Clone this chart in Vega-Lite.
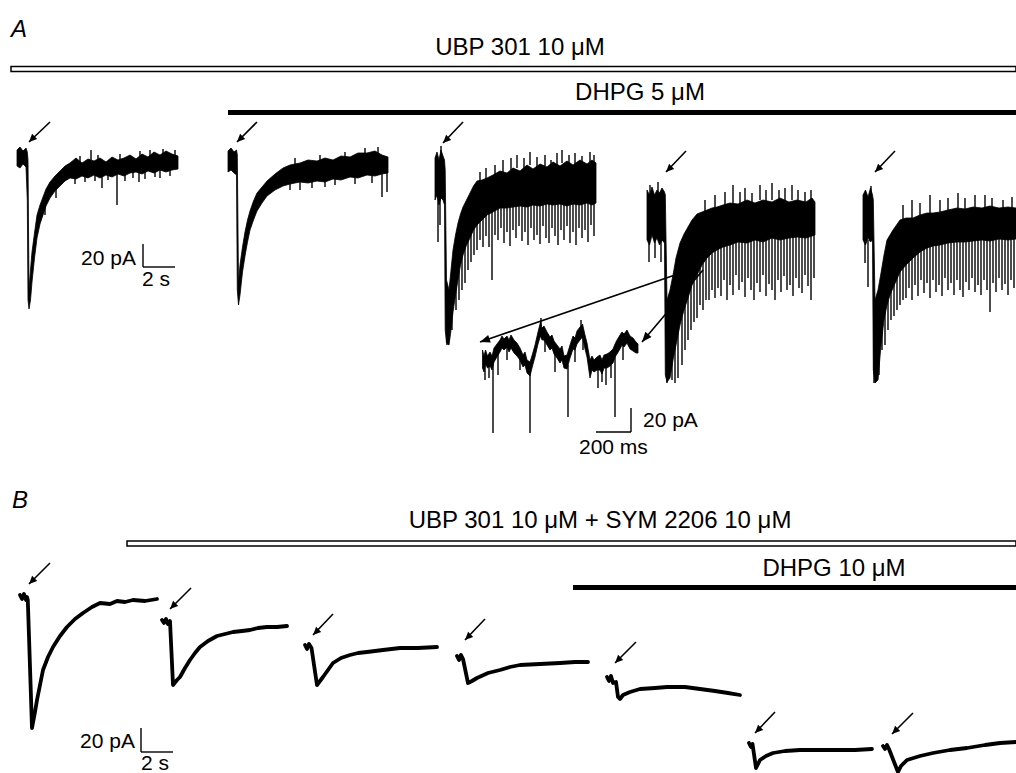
{
  "$schema": "https://vega.github.io/schema/vega-lite/v6.json",
  "width": 1016,
  "height": 773,
  "autosize": "none",
  "padding": 0,
  "background": "white",
  "config": {"view": {"stroke": null}},
  "datasets": {
    "bars": [
      {"kind": "hollow", "x": 11, "x2": 1016, "y": 66.5, "y2": 71.5},
      {"kind": "hollow", "x": 127, "x2": 1016, "y": 541, "y2": 546},
      {"kind": "solid", "x": 228, "x2": 1016, "y": 110, "y2": 115},
      {"kind": "solid", "x": 573, "x2": 1016, "y": 585, "y2": 590}
    ],
    "bands": [
      {"t": "a1", "x": 17, "top": 150, "bot": 166},
      {"t": "a1", "x": 20, "top": 147, "bot": 168},
      {"t": "a1", "x": 23, "top": 151, "bot": 164},
      {"t": "a1", "x": 26, "top": 148, "bot": 167},
      {"t": "a1", "x": 27.3, "top": 152, "bot": 200},
      {"t": "a1", "x": 28, "top": 160, "bot": 300},
      {"t": "a1", "x": 29, "top": 290, "bot": 309},
      {"t": "a1", "x": 30.5, "top": 270, "bot": 300},
      {"t": "a1", "x": 32, "top": 252, "bot": 282},
      {"t": "a1", "x": 34.5, "top": 233, "bot": 258},
      {"t": "a1", "x": 37, "top": 215, "bot": 238},
      {"t": "a1", "x": 40, "top": 205, "bot": 224},
      {"t": "a1", "x": 43, "top": 197, "bot": 215},
      {"t": "a1", "x": 46, "top": 189, "bot": 206},
      {"t": "a1", "x": 50, "top": 182, "bot": 198},
      {"t": "a1", "x": 55, "top": 176, "bot": 191},
      {"t": "a1", "x": 60, "top": 171, "bot": 186},
      {"t": "a1", "x": 65, "top": 166, "bot": 181},
      {"t": "a1", "x": 70, "top": 163, "bot": 178},
      {"t": "a1", "x": 76, "top": 158, "bot": 179},
      {"t": "a1", "x": 82, "top": 163, "bot": 176},
      {"t": "a1", "x": 88, "top": 159, "bot": 178},
      {"t": "a1", "x": 94, "top": 161, "bot": 175},
      {"t": "a1", "x": 100, "top": 158, "bot": 178},
      {"t": "a1", "x": 106, "top": 162, "bot": 175},
      {"t": "a1", "x": 112, "top": 157, "bot": 177},
      {"t": "a1", "x": 118, "top": 160, "bot": 174},
      {"t": "a1", "x": 124, "top": 158, "bot": 176},
      {"t": "a1", "x": 130, "top": 155, "bot": 173},
      {"t": "a1", "x": 136, "top": 159, "bot": 172},
      {"t": "a1", "x": 142, "top": 154, "bot": 174},
      {"t": "a1", "x": 148, "top": 157, "bot": 171},
      {"t": "a1", "x": 154, "top": 152, "bot": 173},
      {"t": "a1", "x": 160, "top": 155, "bot": 170},
      {"t": "a1", "x": 166, "top": 151, "bot": 172},
      {"t": "a1", "x": 172, "top": 154, "bot": 170},
      {"t": "a1", "x": 178, "top": 156, "bot": 169},

      {"t": "a2", "x": 228, "top": 151, "bot": 172},
      {"t": "a2", "x": 231, "top": 148, "bot": 170},
      {"t": "a2", "x": 234, "top": 152, "bot": 173},
      {"t": "a2", "x": 236.5, "top": 150, "bot": 175},
      {"t": "a2", "x": 237.3, "top": 155, "bot": 290},
      {"t": "a2", "x": 238.5, "top": 283, "bot": 305},
      {"t": "a2", "x": 240, "top": 265, "bot": 295},
      {"t": "a2", "x": 242.5, "top": 247, "bot": 272},
      {"t": "a2", "x": 245, "top": 232, "bot": 256},
      {"t": "a2", "x": 247.5, "top": 220, "bot": 242},
      {"t": "a2", "x": 250, "top": 211, "bot": 230},
      {"t": "a2", "x": 253.5, "top": 201, "bot": 220},
      {"t": "a2", "x": 257, "top": 193, "bot": 211},
      {"t": "a2", "x": 262, "top": 187, "bot": 203},
      {"t": "a2", "x": 267, "top": 181, "bot": 196},
      {"t": "a2", "x": 275, "top": 174, "bot": 190},
      {"t": "a2", "x": 283, "top": 168, "bot": 186},
      {"t": "a2", "x": 290, "top": 165, "bot": 184},
      {"t": "a2", "x": 300, "top": 163, "bot": 182},
      {"t": "a2", "x": 308, "top": 160, "bot": 183},
      {"t": "a2", "x": 317, "top": 161, "bot": 181},
      {"t": "a2", "x": 325, "top": 158, "bot": 182},
      {"t": "a2", "x": 333, "top": 160, "bot": 179},
      {"t": "a2", "x": 341, "top": 156, "bot": 180},
      {"t": "a2", "x": 350, "top": 157, "bot": 177},
      {"t": "a2", "x": 358, "top": 153, "bot": 178},
      {"t": "a2", "x": 367, "top": 153, "bot": 175},
      {"t": "a2", "x": 375, "top": 151, "bot": 176},
      {"t": "a2", "x": 382, "top": 155, "bot": 174},
      {"t": "a2", "x": 388, "top": 157, "bot": 173},

      {"t": "a3", "x": 435, "top": 158, "bot": 200},
      {"t": "a3", "x": 437, "top": 152, "bot": 195},
      {"t": "a3", "x": 439, "top": 160, "bot": 205},
      {"t": "a3", "x": 441, "top": 150, "bot": 198},
      {"t": "a3", "x": 443, "top": 156, "bot": 200},
      {"t": "a3", "x": 444.5, "top": 160, "bot": 205},
      {"t": "a3", "x": 445.2, "top": 170, "bot": 330},
      {"t": "a3", "x": 446.5, "top": 280, "bot": 343},
      {"t": "a3", "x": 449, "top": 290, "bot": 345},
      {"t": "a3", "x": 451, "top": 270, "bot": 330},
      {"t": "a3", "x": 453, "top": 250, "bot": 312},
      {"t": "a3", "x": 455.5, "top": 235, "bot": 295},
      {"t": "a3", "x": 458, "top": 223, "bot": 280},
      {"t": "a3", "x": 460.5, "top": 214, "bot": 265},
      {"t": "a3", "x": 463, "top": 207, "bot": 255},
      {"t": "a3", "x": 466.5, "top": 200, "bot": 245},
      {"t": "a3", "x": 470, "top": 193, "bot": 238},
      {"t": "a3", "x": 473.5, "top": 186, "bot": 230},
      {"t": "a3", "x": 477, "top": 181, "bot": 225},
      {"t": "a3", "x": 482, "top": 180, "bot": 220},
      {"t": "a3", "x": 487, "top": 178, "bot": 215},
      {"t": "a3", "x": 493, "top": 175, "bot": 212},
      {"t": "a3", "x": 500, "top": 171, "bot": 208},
      {"t": "a3", "x": 507, "top": 173, "bot": 208},
      {"t": "a3", "x": 513, "top": 168, "bot": 207},
      {"t": "a3", "x": 520, "top": 171, "bot": 206},
      {"t": "a3", "x": 527, "top": 165, "bot": 207},
      {"t": "a3", "x": 533, "top": 169, "bot": 205},
      {"t": "a3", "x": 540, "top": 164, "bot": 206},
      {"t": "a3", "x": 547, "top": 167, "bot": 204},
      {"t": "a3", "x": 553, "top": 162, "bot": 205},
      {"t": "a3", "x": 560, "top": 166, "bot": 204},
      {"t": "a3", "x": 567, "top": 161, "bot": 206},
      {"t": "a3", "x": 573, "top": 165, "bot": 204},
      {"t": "a3", "x": 580, "top": 160, "bot": 205},
      {"t": "a3", "x": 587, "top": 164, "bot": 203},
      {"t": "a3", "x": 592, "top": 160, "bot": 205},
      {"t": "a3", "x": 596, "top": 163, "bot": 203},

      {"t": "a4", "x": 647, "top": 190, "bot": 240},
      {"t": "a4", "x": 649.5, "top": 195, "bot": 245},
      {"t": "a4", "x": 652, "top": 187, "bot": 235},
      {"t": "a4", "x": 654.5, "top": 195, "bot": 243},
      {"t": "a4", "x": 657, "top": 190, "bot": 238},
      {"t": "a4", "x": 659.5, "top": 193, "bot": 245},
      {"t": "a4", "x": 662, "top": 188, "bot": 240},
      {"t": "a4", "x": 664.5, "top": 192, "bot": 243},
      {"t": "a4", "x": 665.3, "top": 195, "bot": 375},
      {"t": "a4", "x": 667, "top": 300, "bot": 382},
      {"t": "a4", "x": 670, "top": 290, "bot": 378},
      {"t": "a4", "x": 673, "top": 275, "bot": 360},
      {"t": "a4", "x": 676, "top": 258, "bot": 345},
      {"t": "a4", "x": 680, "top": 243, "bot": 325},
      {"t": "a4", "x": 684, "top": 234, "bot": 310},
      {"t": "a4", "x": 688, "top": 227, "bot": 298},
      {"t": "a4", "x": 692, "top": 220, "bot": 285},
      {"t": "a4", "x": 697, "top": 214, "bot": 275},
      {"t": "a4", "x": 702, "top": 212, "bot": 265},
      {"t": "a4", "x": 707, "top": 210, "bot": 258},
      {"t": "a4", "x": 712, "top": 208, "bot": 253},
      {"t": "a4", "x": 717, "top": 207, "bot": 250},
      {"t": "a4", "x": 723, "top": 205, "bot": 247},
      {"t": "a4", "x": 730, "top": 203, "bot": 245},
      {"t": "a4", "x": 738, "top": 204, "bot": 242},
      {"t": "a4", "x": 747, "top": 200, "bot": 243},
      {"t": "a4", "x": 755, "top": 203, "bot": 240},
      {"t": "a4", "x": 763, "top": 200, "bot": 242},
      {"t": "a4", "x": 772, "top": 202, "bot": 238},
      {"t": "a4", "x": 780, "top": 198, "bot": 240},
      {"t": "a4", "x": 789, "top": 202, "bot": 238},
      {"t": "a4", "x": 797, "top": 200, "bot": 237},
      {"t": "a4", "x": 806, "top": 202, "bot": 238},
      {"t": "a4", "x": 812, "top": 198, "bot": 236},
      {"t": "a4", "x": 815, "top": 202, "bot": 235},

      {"t": "a5", "x": 863, "top": 195, "bot": 240},
      {"t": "a5", "x": 865.5, "top": 190, "bot": 245},
      {"t": "a5", "x": 868, "top": 197, "bot": 238},
      {"t": "a5", "x": 870.5, "top": 188, "bot": 242},
      {"t": "a5", "x": 872.5, "top": 195, "bot": 240},
      {"t": "a5", "x": 873.3, "top": 200, "bot": 370},
      {"t": "a5", "x": 875, "top": 300, "bot": 383},
      {"t": "a5", "x": 878, "top": 290, "bot": 380},
      {"t": "a5", "x": 881, "top": 273, "bot": 345},
      {"t": "a5", "x": 884, "top": 255, "bot": 320},
      {"t": "a5", "x": 887, "top": 240, "bot": 305},
      {"t": "a5", "x": 890, "top": 235, "bot": 295},
      {"t": "a5", "x": 893, "top": 230, "bot": 288},
      {"t": "a5", "x": 896.5, "top": 225, "bot": 280},
      {"t": "a5", "x": 900, "top": 220, "bot": 272},
      {"t": "a5", "x": 906, "top": 218, "bot": 265},
      {"t": "a5", "x": 913, "top": 218, "bot": 258},
      {"t": "a5", "x": 920, "top": 215, "bot": 252},
      {"t": "a5", "x": 927, "top": 213, "bot": 248},
      {"t": "a5", "x": 933, "top": 213, "bot": 246},
      {"t": "a5", "x": 940, "top": 212, "bot": 245},
      {"t": "a5", "x": 948, "top": 210, "bot": 243},
      {"t": "a5", "x": 957, "top": 208, "bot": 242},
      {"t": "a5", "x": 965, "top": 209, "bot": 242},
      {"t": "a5", "x": 973, "top": 207, "bot": 241},
      {"t": "a5", "x": 982, "top": 208, "bot": 240},
      {"t": "a5", "x": 990, "top": 206, "bot": 241},
      {"t": "a5", "x": 999, "top": 208, "bot": 239},
      {"t": "a5", "x": 1008, "top": 207, "bot": 240},
      {"t": "a5", "x": 1016, "top": 208, "bot": 239},

      {"t": "ins", "x": 482.5, "top": 350, "bot": 368},
      {"t": "ins", "x": 484, "top": 356, "bot": 372},
      {"t": "ins", "x": 485.5, "top": 350, "bot": 364},
      {"t": "ins", "x": 487.5, "top": 356, "bot": 368},
      {"t": "ins", "x": 490, "top": 352, "bot": 366},
      {"t": "ins", "x": 492, "top": 356, "bot": 370},
      {"t": "ins", "x": 494, "top": 348, "bot": 362},
      {"t": "ins", "x": 497, "top": 344, "bot": 357},
      {"t": "ins", "x": 500, "top": 340, "bot": 352},
      {"t": "ins", "x": 502, "top": 336, "bot": 348},
      {"t": "ins", "x": 504, "top": 339, "bot": 350},
      {"t": "ins", "x": 507, "top": 336, "bot": 347},
      {"t": "ins", "x": 509, "top": 340, "bot": 352},
      {"t": "ins", "x": 511, "top": 335, "bot": 348},
      {"t": "ins", "x": 514, "top": 340, "bot": 353},
      {"t": "ins", "x": 517, "top": 343, "bot": 356},
      {"t": "ins", "x": 520, "top": 348, "bot": 360},
      {"t": "ins", "x": 523, "top": 355, "bot": 367},
      {"t": "ins", "x": 525, "top": 352, "bot": 365},
      {"t": "ins", "x": 527, "top": 360, "bot": 373},
      {"t": "ins", "x": 530, "top": 362, "bot": 376},
      {"t": "ins", "x": 532.5, "top": 354, "bot": 366},
      {"t": "ins", "x": 535, "top": 345, "bot": 357},
      {"t": "ins", "x": 538, "top": 332, "bot": 344},
      {"t": "ins", "x": 540.5, "top": 322, "bot": 336},
      {"t": "ins", "x": 542, "top": 328, "bot": 340},
      {"t": "ins", "x": 544, "top": 326, "bot": 340},
      {"t": "ins", "x": 547, "top": 332, "bot": 345},
      {"t": "ins", "x": 550, "top": 337, "bot": 350},
      {"t": "ins", "x": 552, "top": 335, "bot": 348},
      {"t": "ins", "x": 554, "top": 341, "bot": 354},
      {"t": "ins", "x": 557, "top": 345, "bot": 358},
      {"t": "ins", "x": 560, "top": 349, "bot": 363},
      {"t": "ins", "x": 562, "top": 346, "bot": 360},
      {"t": "ins", "x": 564, "top": 356, "bot": 368},
      {"t": "ins", "x": 567, "top": 355, "bot": 369},
      {"t": "ins", "x": 570, "top": 345, "bot": 358},
      {"t": "ins", "x": 573, "top": 336, "bot": 349},
      {"t": "ins", "x": 575, "top": 338, "bot": 350},
      {"t": "ins", "x": 577, "top": 331, "bot": 344},
      {"t": "ins", "x": 580, "top": 327, "bot": 340},
      {"t": "ins", "x": 582.5, "top": 324, "bot": 337},
      {"t": "ins", "x": 585, "top": 335, "bot": 349},
      {"t": "ins", "x": 587, "top": 343, "bot": 357},
      {"t": "ins", "x": 590, "top": 360, "bot": 378},
      {"t": "ins", "x": 592, "top": 356, "bot": 370},
      {"t": "ins", "x": 594, "top": 360, "bot": 372},
      {"t": "ins", "x": 597, "top": 357, "bot": 370},
      {"t": "ins", "x": 600, "top": 355, "bot": 370},
      {"t": "ins", "x": 602, "top": 360, "bot": 374},
      {"t": "ins", "x": 604, "top": 355, "bot": 368},
      {"t": "ins", "x": 607, "top": 354, "bot": 368},
      {"t": "ins", "x": 610, "top": 352, "bot": 366},
      {"t": "ins", "x": 613, "top": 349, "bot": 363},
      {"t": "ins", "x": 615, "top": 344, "bot": 357},
      {"t": "ins", "x": 617, "top": 340, "bot": 354},
      {"t": "ins", "x": 620, "top": 335, "bot": 349},
      {"t": "ins", "x": 622, "top": 332, "bot": 345},
      {"t": "ins", "x": 624, "top": 334, "bot": 347},
      {"t": "ins", "x": 627, "top": 330, "bot": 343},
      {"t": "ins", "x": 630, "top": 336, "bot": 349},
      {"t": "ins", "x": 633, "top": 338, "bot": 351},
      {"t": "ins", "x": 636, "top": 342, "bot": 353},
      {"t": "ins", "x": 638, "top": 344, "bot": 353}
    ],
    "spikes": [
      {"x": 102, "y": 170, "y2": 188}, {"x": 117, "y": 170, "y2": 205}, {"x": 139, "y": 170, "y2": 182},
      {"x": 160, "y": 168, "y2": 178}, {"x": 91, "y": 150, "y2": 160}, {"x": 150, "y": 150, "y2": 158},
      {"x": 56, "y": 185, "y2": 198}, {"x": 45, "y": 200, "y2": 215},
      {"x": 75, "y": 172, "y2": 184}, {"x": 85, "y": 172, "y2": 182}, {"x": 95, "y": 170, "y2": 181},
      {"x": 108, "y": 170, "y2": 180}, {"x": 125, "y": 170, "y2": 181}, {"x": 133, "y": 168, "y2": 178},
      {"x": 145, "y": 168, "y2": 179}, {"x": 155, "y": 167, "y2": 177}, {"x": 170, "y": 165, "y2": 176},
      {"x": 80, "y": 156, "y2": 166}, {"x": 98, "y": 155, "y2": 165}, {"x": 120, "y": 154, "y2": 164},
      {"x": 140, "y": 151, "y2": 160}, {"x": 163, "y": 149, "y2": 158}, {"x": 175, "y": 150, "y2": 160},
      {"x": 300, "y": 178, "y2": 190}, {"x": 325, "y": 175, "y2": 187}, {"x": 382, "y": 172, "y2": 197},
      {"x": 387, "y": 170, "y2": 192}, {"x": 365, "y": 148, "y2": 158}, {"x": 345, "y": 152, "y2": 160},
      {"x": 312, "y": 175, "y2": 188}, {"x": 290, "y": 178, "y2": 190}, {"x": 335, "y": 174, "y2": 185},
      {"x": 355, "y": 172, "y2": 184}, {"x": 372, "y": 170, "y2": 183}, {"x": 295, "y": 158, "y2": 168},
      {"x": 320, "y": 155, "y2": 165}, {"x": 378, "y": 147, "y2": 158},

      {"x": 438, "y": 195, "y2": 242}, {"x": 440, "y": 195, "y2": 225}, {"x": 441, "y": 146, "y2": 160},
      {"x": 447, "y": 300, "y2": 345}, {"x": 449, "y": 300, "y2": 340}, {"x": 452, "y": 290, "y2": 330},
      {"x": 456, "y": 285, "y2": 310}, {"x": 459, "y": 270, "y2": 300}, {"x": 462, "y": 255, "y2": 290},
      {"x": 465, "y": 245, "y2": 283}, {"x": 468, "y": 240, "y2": 270}, {"x": 471, "y": 232, "y2": 262},
      {"x": 474, "y": 225, "y2": 255}, {"x": 477, "y": 220, "y2": 250}, {"x": 480, "y": 216, "y2": 240},
      {"x": 483, "y": 214, "y2": 247}, {"x": 486, "y": 212, "y2": 236}, {"x": 489, "y": 210, "y2": 247},
      {"x": 492, "y": 208, "y2": 280}, {"x": 495, "y": 206, "y2": 235}, {"x": 498, "y": 205, "y2": 240},
      {"x": 501, "y": 204, "y2": 228}, {"x": 504, "y": 204, "y2": 243}, {"x": 507, "y": 204, "y2": 232},
      {"x": 510, "y": 204, "y2": 246}, {"x": 513, "y": 203, "y2": 230}, {"x": 516, "y": 203, "y2": 238},
      {"x": 519, "y": 203, "y2": 226}, {"x": 522, "y": 202, "y2": 241}, {"x": 525, "y": 202, "y2": 232},
      {"x": 528, "y": 202, "y2": 245}, {"x": 531, "y": 202, "y2": 228}, {"x": 534, "y": 202, "y2": 240},
      {"x": 537, "y": 201, "y2": 235}, {"x": 540, "y": 201, "y2": 244}, {"x": 543, "y": 201, "y2": 226},
      {"x": 546, "y": 201, "y2": 238}, {"x": 549, "y": 201, "y2": 243}, {"x": 552, "y": 201, "y2": 228},
      {"x": 555, "y": 201, "y2": 236}, {"x": 558, "y": 201, "y2": 245}, {"x": 561, "y": 201, "y2": 230},
      {"x": 564, "y": 201, "y2": 240}, {"x": 567, "y": 201, "y2": 226}, {"x": 570, "y": 201, "y2": 243},
      {"x": 573, "y": 201, "y2": 232}, {"x": 576, "y": 201, "y2": 245}, {"x": 579, "y": 201, "y2": 228},
      {"x": 582, "y": 201, "y2": 238}, {"x": 585, "y": 201, "y2": 230}, {"x": 588, "y": 201, "y2": 242},
      {"x": 591, "y": 201, "y2": 225}, {"x": 594, "y": 201, "y2": 236},
      {"x": 480, "y": 172, "y2": 185}, {"x": 486, "y": 168, "y2": 180}, {"x": 495, "y": 165, "y2": 178},
      {"x": 503, "y": 160, "y2": 172}, {"x": 511, "y": 158, "y2": 170}, {"x": 517, "y": 155, "y2": 168},
      {"x": 524, "y": 158, "y2": 168}, {"x": 530, "y": 152, "y2": 165}, {"x": 537, "y": 157, "y2": 168},
      {"x": 545, "y": 155, "y2": 166}, {"x": 551, "y": 160, "y2": 170}, {"x": 557, "y": 153, "y2": 165},
      {"x": 562, "y": 150, "y2": 163}, {"x": 569, "y": 155, "y2": 165}, {"x": 575, "y": 153, "y2": 165},
      {"x": 582, "y": 156, "y2": 166}, {"x": 590, "y": 152, "y2": 162}, {"x": 594, "y": 155, "y2": 165},

      {"x": 649, "y": 240, "y2": 262}, {"x": 655, "y": 240, "y2": 258}, {"x": 661, "y": 240, "y2": 262},
      {"x": 650, "y": 185, "y2": 195}, {"x": 658, "y": 182, "y2": 192},
      {"x": 667, "y": 300, "y2": 383}, {"x": 669, "y": 320, "y2": 378}, {"x": 672, "y": 320, "y2": 380},
      {"x": 675, "y": 330, "y2": 383}, {"x": 678, "y": 320, "y2": 378},
      {"x": 682, "y": 310, "y2": 365}, {"x": 685, "y": 300, "y2": 350}, {"x": 688, "y": 290, "y2": 340},
      {"x": 691, "y": 280, "y2": 330}, {"x": 694, "y": 275, "y2": 322}, {"x": 697, "y": 268, "y2": 318},
      {"x": 700, "y": 262, "y2": 305}, {"x": 703, "y": 258, "y2": 310}, {"x": 706, "y": 255, "y2": 300},
      {"x": 709, "y": 250, "y2": 300}, {"x": 712, "y": 248, "y2": 290}, {"x": 715, "y": 245, "y2": 298},
      {"x": 718, "y": 243, "y2": 288}, {"x": 721, "y": 242, "y2": 296}, {"x": 724, "y": 240, "y2": 280},
      {"x": 727, "y": 240, "y2": 300}, {"x": 730, "y": 238, "y2": 285}, {"x": 733, "y": 238, "y2": 295},
      {"x": 736, "y": 238, "y2": 275}, {"x": 739, "y": 236, "y2": 290}, {"x": 742, "y": 236, "y2": 282},
      {"x": 745, "y": 236, "y2": 297}, {"x": 748, "y": 236, "y2": 278}, {"x": 751, "y": 236, "y2": 290},
      {"x": 754, "y": 235, "y2": 300}, {"x": 757, "y": 235, "y2": 283}, {"x": 760, "y": 235, "y2": 292},
      {"x": 763, "y": 235, "y2": 275}, {"x": 766, "y": 235, "y2": 296}, {"x": 769, "y": 235, "y2": 284},
      {"x": 772, "y": 233, "y2": 290}, {"x": 775, "y": 233, "y2": 300}, {"x": 778, "y": 233, "y2": 280},
      {"x": 781, "y": 233, "y2": 292}, {"x": 784, "y": 233, "y2": 276}, {"x": 787, "y": 233, "y2": 290},
      {"x": 790, "y": 233, "y2": 285}, {"x": 793, "y": 233, "y2": 296}, {"x": 796, "y": 233, "y2": 278},
      {"x": 799, "y": 233, "y2": 288}, {"x": 802, "y": 233, "y2": 293}, {"x": 805, "y": 233, "y2": 275},
      {"x": 808, "y": 233, "y2": 286}, {"x": 811, "y": 233, "y2": 300}, {"x": 814, "y": 233, "y2": 278},
      {"x": 705, "y": 200, "y2": 212}, {"x": 715, "y": 195, "y2": 209}, {"x": 725, "y": 192, "y2": 206},
      {"x": 733, "y": 185, "y2": 205}, {"x": 740, "y": 192, "y2": 205}, {"x": 745, "y": 188, "y2": 205},
      {"x": 752, "y": 193, "y2": 205}, {"x": 760, "y": 185, "y2": 200}, {"x": 766, "y": 190, "y2": 203},
      {"x": 772, "y": 183, "y2": 200}, {"x": 779, "y": 190, "y2": 200}, {"x": 785, "y": 188, "y2": 203},
      {"x": 792, "y": 185, "y2": 200}, {"x": 798, "y": 190, "y2": 202}, {"x": 805, "y": 192, "y2": 205},
      {"x": 811, "y": 190, "y2": 200},

      {"x": 865, "y": 240, "y2": 263}, {"x": 868, "y": 240, "y2": 287}, {"x": 871, "y": 186, "y2": 200},
      {"x": 874, "y": 300, "y2": 383}, {"x": 876, "y": 310, "y2": 380}, {"x": 879, "y": 300, "y2": 375},
      {"x": 882, "y": 310, "y2": 350}, {"x": 885, "y": 300, "y2": 345},
      {"x": 888, "y": 300, "y2": 330}, {"x": 891, "y": 290, "y2": 320}, {"x": 894, "y": 282, "y2": 316},
      {"x": 897, "y": 275, "y2": 310}, {"x": 900, "y": 268, "y2": 305}, {"x": 903, "y": 265, "y2": 300},
      {"x": 906, "y": 262, "y2": 298}, {"x": 909, "y": 258, "y2": 288}, {"x": 912, "y": 255, "y2": 300},
      {"x": 915, "y": 252, "y2": 285}, {"x": 918, "y": 250, "y2": 296}, {"x": 921, "y": 248, "y2": 280},
      {"x": 924, "y": 246, "y2": 293}, {"x": 927, "y": 244, "y2": 283}, {"x": 930, "y": 243, "y2": 298},
      {"x": 933, "y": 242, "y2": 280}, {"x": 936, "y": 242, "y2": 292}, {"x": 939, "y": 241, "y2": 285},
      {"x": 942, "y": 240, "y2": 296}, {"x": 945, "y": 240, "y2": 278}, {"x": 948, "y": 238, "y2": 290},
      {"x": 951, "y": 238, "y2": 283}, {"x": 954, "y": 238, "y2": 295}, {"x": 957, "y": 237, "y2": 280},
      {"x": 960, "y": 237, "y2": 290}, {"x": 963, "y": 237, "y2": 297}, {"x": 966, "y": 237, "y2": 282},
      {"x": 969, "y": 237, "y2": 290}, {"x": 972, "y": 237, "y2": 278}, {"x": 975, "y": 237, "y2": 292},
      {"x": 978, "y": 237, "y2": 285}, {"x": 981, "y": 237, "y2": 295}, {"x": 984, "y": 237, "y2": 280},
      {"x": 987, "y": 237, "y2": 290}, {"x": 990, "y": 237, "y2": 312}, {"x": 993, "y": 237, "y2": 283},
      {"x": 996, "y": 237, "y2": 292}, {"x": 999, "y": 237, "y2": 278}, {"x": 1002, "y": 237, "y2": 290},
      {"x": 1005, "y": 237, "y2": 284}, {"x": 1008, "y": 237, "y2": 295}, {"x": 1011, "y": 237, "y2": 280},
      {"x": 1014, "y": 237, "y2": 288},
      {"x": 903, "y": 205, "y2": 220}, {"x": 912, "y": 200, "y2": 218}, {"x": 920, "y": 203, "y2": 216},
      {"x": 930, "y": 195, "y2": 213}, {"x": 940, "y": 200, "y2": 214}, {"x": 948, "y": 198, "y2": 210},
      {"x": 958, "y": 193, "y2": 208}, {"x": 965, "y": 198, "y2": 210}, {"x": 975, "y": 195, "y2": 208},
      {"x": 985, "y": 195, "y2": 208}, {"x": 992, "y": 198, "y2": 208}, {"x": 1003, "y": 200, "y2": 210},
      {"x": 1012, "y": 197, "y2": 208},

      {"x": 493, "y": 362, "y2": 433}, {"x": 530, "y": 372, "y2": 433}, {"x": 568, "y": 365, "y2": 417},
      {"x": 615, "y": 355, "y2": 417}, {"x": 498, "y": 352, "y2": 375}, {"x": 507, "y": 345, "y2": 360},
      {"x": 555, "y": 352, "y2": 372}, {"x": 575, "y": 345, "y2": 362}, {"x": 598, "y": 366, "y2": 388},
      {"x": 606, "y": 364, "y2": 385}, {"x": 623, "y": 342, "y2": 360}, {"x": 485, "y": 362, "y2": 380},
      {"x": 489, "y": 362, "y2": 378}, {"x": 520, "y": 356, "y2": 370}, {"x": 545, "y": 336, "y2": 352},
      {"x": 583, "y": 334, "y2": 350}, {"x": 602, "y": 368, "y2": 382}, {"x": 611, "y": 362, "y2": 378},
      {"x": 541, "y": 318, "y2": 326}, {"x": 581, "y": 320, "y2": 330}
    ],
    "btraces": [
      {"t": "b1", "x": 20, "y": 595}, {"t": "b1", "x": 22, "y": 599}, {"t": "b1", "x": 24, "y": 594},
      {"t": "b1", "x": 26, "y": 600}, {"t": "b1", "x": 27, "y": 597}, {"t": "b1", "x": 27.8, "y": 600},
      {"t": "b1", "x": 32, "y": 728}, {"t": "b1", "x": 35, "y": 712}, {"t": "b1", "x": 37, "y": 700},
      {"t": "b1", "x": 40, "y": 685}, {"t": "b1", "x": 43, "y": 670}, {"t": "b1", "x": 48, "y": 657},
      {"t": "b1", "x": 53, "y": 647}, {"t": "b1", "x": 60, "y": 636}, {"t": "b1", "x": 67, "y": 627},
      {"t": "b1", "x": 75, "y": 619}, {"t": "b1", "x": 83, "y": 613}, {"t": "b1", "x": 92, "y": 607},
      {"t": "b1", "x": 100, "y": 603}, {"t": "b1", "x": 110, "y": 604}, {"t": "b1", "x": 117, "y": 601},
      {"t": "b1", "x": 125, "y": 602}, {"t": "b1", "x": 133, "y": 600}, {"t": "b1", "x": 145, "y": 601},
      {"t": "b1", "x": 157, "y": 599},
      {"t": "b2", "x": 162, "y": 620}, {"t": "b2", "x": 164, "y": 623}, {"t": "b2", "x": 166, "y": 619},
      {"t": "b2", "x": 168, "y": 624}, {"t": "b2", "x": 170, "y": 621}, {"t": "b2", "x": 173, "y": 685},
      {"t": "b2", "x": 177, "y": 680}, {"t": "b2", "x": 180, "y": 677}, {"t": "b2", "x": 185, "y": 668},
      {"t": "b2", "x": 190, "y": 660}, {"t": "b2", "x": 195, "y": 653}, {"t": "b2", "x": 200, "y": 647},
      {"t": "b2", "x": 208, "y": 641}, {"t": "b2", "x": 217, "y": 636}, {"t": "b2", "x": 225, "y": 634},
      {"t": "b2", "x": 233, "y": 632}, {"t": "b2", "x": 242, "y": 631}, {"t": "b2", "x": 250, "y": 630},
      {"t": "b2", "x": 258, "y": 628}, {"t": "b2", "x": 267, "y": 627}, {"t": "b2", "x": 277, "y": 627},
      {"t": "b2", "x": 287, "y": 626},
      {"t": "b3", "x": 305, "y": 645}, {"t": "b3", "x": 307, "y": 649}, {"t": "b3", "x": 309, "y": 644},
      {"t": "b3", "x": 311.5, "y": 648}, {"t": "b3", "x": 317, "y": 685}, {"t": "b3", "x": 320, "y": 681},
      {"t": "b3", "x": 323, "y": 677}, {"t": "b3", "x": 328, "y": 670}, {"t": "b3", "x": 333, "y": 663},
      {"t": "b3", "x": 341, "y": 658}, {"t": "b3", "x": 350, "y": 655}, {"t": "b3", "x": 358, "y": 653},
      {"t": "b3", "x": 367, "y": 652}, {"t": "b3", "x": 383, "y": 650}, {"t": "b3", "x": 400, "y": 648},
      {"t": "b3", "x": 418, "y": 648}, {"t": "b3", "x": 437, "y": 647},
      {"t": "b4", "x": 457, "y": 656}, {"t": "b4", "x": 459, "y": 660}, {"t": "b4", "x": 461, "y": 655},
      {"t": "b4", "x": 463, "y": 659}, {"t": "b4", "x": 468, "y": 683}, {"t": "b4", "x": 472, "y": 681},
      {"t": "b4", "x": 477, "y": 678}, {"t": "b4", "x": 488, "y": 673}, {"t": "b4", "x": 500, "y": 670},
      {"t": "b4", "x": 510, "y": 667}, {"t": "b4", "x": 520, "y": 665}, {"t": "b4", "x": 540, "y": 664},
      {"t": "b4", "x": 560, "y": 663}, {"t": "b4", "x": 575, "y": 662}, {"t": "b4", "x": 588, "y": 662},
      {"t": "b5", "x": 607, "y": 677}, {"t": "b5", "x": 609, "y": 681}, {"t": "b5", "x": 611, "y": 676},
      {"t": "b5", "x": 613, "y": 683}, {"t": "b5", "x": 616, "y": 682}, {"t": "b5", "x": 618, "y": 697},
      {"t": "b5", "x": 620, "y": 699}, {"t": "b5", "x": 623, "y": 695}, {"t": "b5", "x": 630, "y": 692},
      {"t": "b5", "x": 640, "y": 689}, {"t": "b5", "x": 655, "y": 688}, {"t": "b5", "x": 667, "y": 687},
      {"t": "b5", "x": 685, "y": 687}, {"t": "b5", "x": 700, "y": 689}, {"t": "b5", "x": 715, "y": 691},
      {"t": "b5", "x": 728, "y": 693}, {"t": "b5", "x": 740, "y": 695},
      {"t": "b6", "x": 749, "y": 743}, {"t": "b6", "x": 751, "y": 747}, {"t": "b6", "x": 752.5, "y": 744},
      {"t": "b6", "x": 756, "y": 768}, {"t": "b6", "x": 760, "y": 760}, {"t": "b6", "x": 766, "y": 756},
      {"t": "b6", "x": 773, "y": 753}, {"t": "b6", "x": 785, "y": 751}, {"t": "b6", "x": 800, "y": 750},
      {"t": "b6", "x": 833, "y": 750}, {"t": "b6", "x": 855, "y": 750}, {"t": "b6", "x": 872, "y": 749},
      {"t": "b7", "x": 883, "y": 746}, {"t": "b7", "x": 885, "y": 749}, {"t": "b7", "x": 887, "y": 745},
      {"t": "b7", "x": 889, "y": 749}, {"t": "b7", "x": 896, "y": 767}, {"t": "b7", "x": 898, "y": 772},
      {"t": "b7", "x": 901, "y": 766}, {"t": "b7", "x": 907, "y": 760}, {"t": "b7", "x": 920, "y": 756},
      {"t": "b7", "x": 933, "y": 753}, {"t": "b7", "x": 950, "y": 750}, {"t": "b7", "x": 967, "y": 748},
      {"t": "b7", "x": 985, "y": 745}, {"t": "b7", "x": 1000, "y": 743}, {"t": "b7", "x": 1016, "y": 742}
    ],
    "scalebars": [
      {"x": 143, "y": 244, "x2": 143, "y2": 267}, {"x": 143, "y": 267, "x2": 175, "y2": 267},
      {"x": 141, "y": 728, "x2": 141, "y2": 752}, {"x": 141, "y": 752, "x2": 173, "y2": 752},
      {"x": 631, "y": 408, "x2": 631, "y2": 432}, {"x": 596, "y": 432, "x2": 631, "y2": 432}
    ],
    "arrows": [
      {"kind": "stim", "x": 50, "y": 122, "x2": 29, "y2": 142},
      {"kind": "stim", "x": 257, "y": 122, "x2": 237, "y2": 142},
      {"kind": "stim", "x": 463, "y": 122, "x2": 443, "y2": 143},
      {"kind": "stim", "x": 686, "y": 151, "x2": 666, "y2": 172},
      {"kind": "stim", "x": 895, "y": 151, "x2": 875, "y2": 172},
      {"kind": "stim", "x": 50, "y": 563, "x2": 29, "y2": 584},
      {"kind": "stim", "x": 191, "y": 588, "x2": 170, "y2": 609},
      {"kind": "stim", "x": 333, "y": 614, "x2": 313, "y2": 635},
      {"kind": "stim", "x": 485, "y": 619, "x2": 465, "y2": 640},
      {"kind": "stim", "x": 636, "y": 642, "x2": 615, "y2": 663},
      {"kind": "stim", "x": 775, "y": 712, "x2": 755, "y2": 733},
      {"kind": "stim", "x": 913, "y": 713, "x2": 892, "y2": 734},
      {"kind": "ins1", "x": 675, "y": 275, "x2": 480, "y2": 342},
      {"kind": "ins2", "x": 703, "y": 270, "x2": 642, "y2": 342}
    ],
    "texts": [
      {"kind": "panel", "label": "A", "x": 11, "y": 37},
      {"kind": "panel", "label": "B", "x": 12, "y": 508},
      {"kind": "header", "label": "UBP 301 10 μM", "x": 520, "y": 55},
      {"kind": "header", "label": "DHPG 5 μM", "x": 640, "y": 100},
      {"kind": "header", "label": "UBP 301 10 μM + SYM 2206 10 μM", "x": 600, "y": 528},
      {"kind": "header", "label": "DHPG 10 μM", "x": 834, "y": 576},
      {"kind": "scaleR", "label": "20 pA", "x": 136, "y": 265},
      {"kind": "scaleR", "label": "20 pA", "x": 135, "y": 748},
      {"kind": "scaleL", "label": "2 s", "x": 142, "y": 286},
      {"kind": "scaleL", "label": "2 s", "x": 141, "y": 770},
      {"kind": "scaleL", "label": "20 pA", "x": 643, "y": 427},
      {"kind": "scaleL", "label": "200 ms", "x": 579, "y": 454}
    ]
  },
  "layer": [
    {
      "data": {"name": "bars"},
      "transform": [{"filter": "datum.kind === 'hollow'"}],
      "mark": {"type": "rect", "fill": "white", "stroke": "black", "strokeWidth": 1.5},
      "encoding": {
        "x": {"field": "x", "type": "quantitative", "scale": {"domain": [0, 1016], "nice": false, "zero": false}, "axis": null},
        "x2": {"field": "x2"},
        "y": {"field": "y", "type": "quantitative", "scale": {"domain": [0, 773], "nice": false, "zero": false, "reverse": true}, "axis": null},
        "y2": {"field": "y2"}
      }
    },
    {
      "data": {"name": "bars"},
      "transform": [{"filter": "datum.kind === 'solid'"}],
      "mark": {"type": "rect", "fill": "black"},
      "encoding": {
        "x": {"field": "x", "type": "quantitative"},
        "x2": {"field": "x2"},
        "y": {"field": "y", "type": "quantitative"},
        "y2": {"field": "y2"}
      }
    },
    {
      "data": {"name": "bands"},
      "mark": {"type": "area", "color": "black", "interpolate": "linear", "stroke": "black", "strokeWidth": 0.8},
      "encoding": {
        "x": {"field": "x", "type": "quantitative"},
        "y": {"field": "top", "type": "quantitative"},
        "y2": {"field": "bot"},
        "detail": {"field": "t"}
      }
    },
    {
      "data": {"name": "spikes"},
      "mark": {"type": "rule", "color": "black", "strokeWidth": 1.4},
      "encoding": {
        "x": {"field": "x", "type": "quantitative"},
        "y": {"field": "y", "type": "quantitative"},
        "y2": {"field": "y2"}
      }
    },
    {
      "data": {"name": "btraces"},
      "mark": {"type": "line", "color": "black", "strokeWidth": 3.8, "strokeJoin": "round", "strokeCap": "round"},
      "encoding": {
        "x": {"field": "x", "type": "quantitative"},
        "y": {"field": "y", "type": "quantitative"},
        "detail": {"field": "t"}
      }
    },
    {
      "data": {"name": "scalebars"},
      "mark": {"type": "rule", "color": "black", "strokeWidth": 1.4},
      "encoding": {
        "x": {"field": "x", "type": "quantitative"},
        "y": {"field": "y", "type": "quantitative"},
        "x2": {"field": "x2"},
        "y2": {"field": "y2"}
      }
    },
    {
      "data": {"name": "arrows"},
      "mark": {"type": "rule", "color": "black", "strokeWidth": 1.6},
      "encoding": {
        "x": {"field": "x", "type": "quantitative"},
        "y": {"field": "y", "type": "quantitative"},
        "x2": {"field": "x2"},
        "y2": {"field": "y2"}
      }
    },
    {
      "data": {"name": "arrows"},
      "transform": [{"filter": "datum.kind === 'stim'"}],
      "mark": {"type": "point", "shape": "M0,0L0.45,1L-0.45,1Z", "filled": true, "color": "black", "opacity": 1, "size": 256, "angle": 225},
      "encoding": {
        "x": {"field": "x2", "type": "quantitative"},
        "y": {"field": "y2", "type": "quantitative"}
      }
    },
    {
      "data": {"name": "arrows"},
      "transform": [{"filter": "datum.kind === 'ins1'"}],
      "mark": {"type": "point", "shape": "M0,0L0.4,1L-0.4,1Z", "filled": true, "color": "black", "opacity": 1, "size": 400, "angle": 251},
      "encoding": {
        "x": {"field": "x2", "type": "quantitative"},
        "y": {"field": "y2", "type": "quantitative"}
      }
    },
    {
      "data": {"name": "arrows"},
      "transform": [{"filter": "datum.kind === 'ins2'"}],
      "mark": {"type": "point", "shape": "M0,0L0.4,1L-0.4,1Z", "filled": true, "color": "black", "opacity": 1, "size": 400, "angle": 220},
      "encoding": {
        "x": {"field": "x2", "type": "quantitative"},
        "y": {"field": "y2", "type": "quantitative"}
      }
    },
    {
      "data": {"name": "texts"},
      "transform": [{"filter": "datum.kind === 'panel'"}],
      "mark": {"type": "text", "font": "Liberation Sans", "fontSize": 24, "fontStyle": "italic", "align": "left", "baseline": "alphabetic", "color": "black"},
      "encoding": {
        "x": {"field": "x", "type": "quantitative"},
        "y": {"field": "y", "type": "quantitative"},
        "text": {"field": "label"}
      }
    },
    {
      "data": {"name": "texts"},
      "transform": [{"filter": "datum.kind === 'header'"}],
      "mark": {"type": "text", "font": "Liberation Sans", "fontSize": 24, "align": "center", "baseline": "alphabetic", "color": "black"},
      "encoding": {
        "x": {"field": "x", "type": "quantitative"},
        "y": {"field": "y", "type": "quantitative"},
        "text": {"field": "label"}
      }
    },
    {
      "data": {"name": "texts"},
      "transform": [{"filter": "datum.kind === 'scaleR'"}],
      "mark": {"type": "text", "font": "Liberation Sans", "fontSize": 21, "align": "right", "baseline": "alphabetic", "color": "black"},
      "encoding": {
        "x": {"field": "x", "type": "quantitative"},
        "y": {"field": "y", "type": "quantitative"},
        "text": {"field": "label"}
      }
    },
    {
      "data": {"name": "texts"},
      "transform": [{"filter": "datum.kind === 'scaleL'"}],
      "mark": {"type": "text", "font": "Liberation Sans", "fontSize": 21, "align": "left", "baseline": "alphabetic", "color": "black"},
      "encoding": {
        "x": {"field": "x", "type": "quantitative"},
        "y": {"field": "y", "type": "quantitative"},
        "text": {"field": "label"}
      }
    }
  ]
}
